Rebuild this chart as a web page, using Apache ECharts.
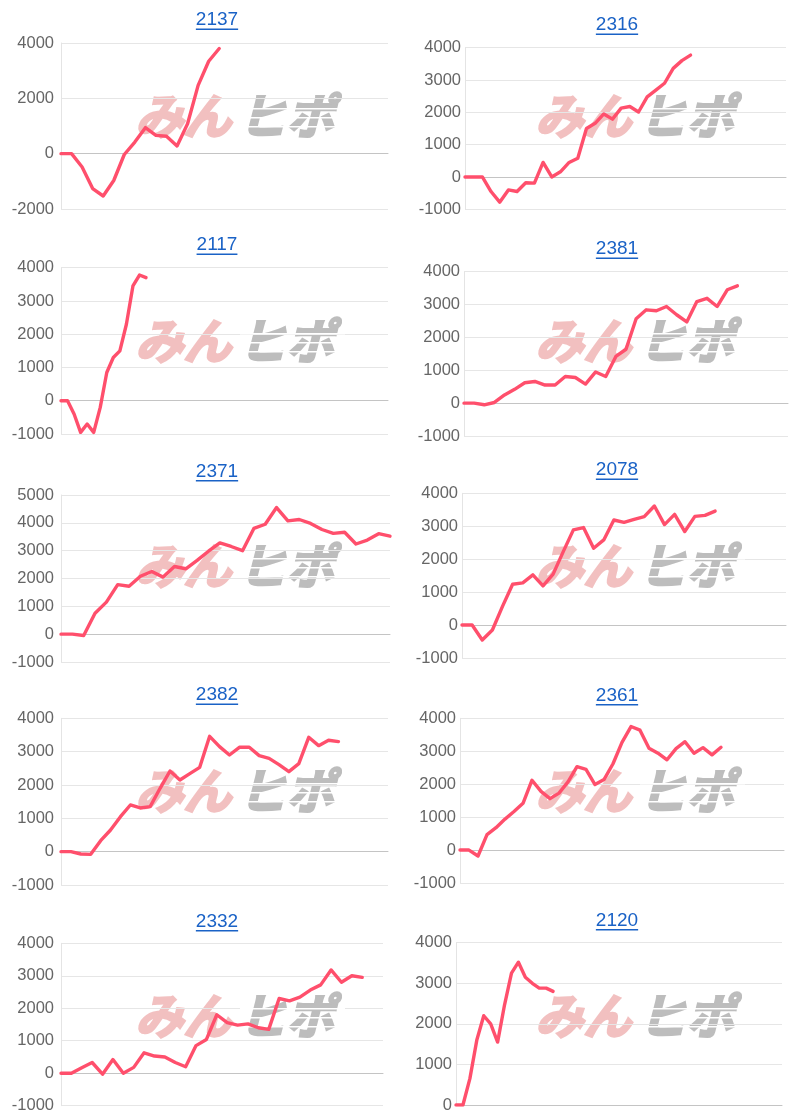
<!DOCTYPE html>
<html><head><meta charset="utf-8">
<script src="https://cdn.jsdelivr.net/npm/echarts@6/dist/echarts.min.js"></script>
<style>html,body{margin:0;padding:0;background:#fff}#c{width:800px;height:1120px}</style>
</head><body><div id="c"></div>
<script>
// ---- data ----
const titles = ['2137', '2316', '2117', '2381', '2371', '2078', '2382', '2361', '2332', '2120'];
const s2137 = [0, 0, -480, -1260, -1530, -970, -30, 420, 940, 660, 630, 280, 1080, 2470, 3340, 3800];
const s2316 = [0, 0, 0, -450, -780, -400, -450, -180, -190, 450, 0, 160, 450, 580, 1500, 1660, 1950, 1790, 2130, 2180, 2010, 2480, 2690, 2900, 3360, 3600, 3770];
const s2117 = [0, 0, -400, -950, -700, -950, -200, 850, 1300, 1500, 2300, 3450, 3780, 3700];
const s2381 = [0, 0, -50, 20, 250, 420, 620, 660, 550, 550, 810, 780, 580, 950, 810, 1420, 1640, 2570, 2840, 2810, 2940, 2690, 2470, 3090, 3190, 2940, 3450, 3570];
const s2371 = [0, 0, -50, 750, 1150, 1780, 1720, 2080, 2250, 2050, 2430, 2350, 2650, 2980, 3280, 3150, 3000, 3800, 3950, 4550, 4070, 4120, 3980, 3760, 3620, 3660, 3240, 3380, 3610, 3520];
const s2078 = [0, 0, -455, -150, 565, 1240, 1280, 1525, 1190, 1545, 2230, 2890, 2960, 2330, 2585, 3190, 3120, 3210, 3290, 3615, 3050, 3360, 2840, 3300, 3330, 3460];
const s2382 = [0, 0, -70, -80, 330, 650, 1050, 1400, 1310, 1350, 1900, 2420, 2150, 2340, 2530, 3460, 3150, 2900, 3130, 3130, 2880, 2800, 2610, 2400, 2640, 3430, 3180, 3340, 3300];
const s2361 = [0, 0, -180, 470, 680, 940, 1170, 1420, 2120, 1780, 1560, 1730, 2070, 2530, 2450, 1990, 2140, 2620, 3270, 3750, 3640, 3090, 2940, 2740, 3080, 3290, 2940, 3110, 2890, 3120];
const s2332 = [0, 0, 170, 330, -30, 420, 0, 180, 630, 530, 500, 330, 200, 850, 1040, 1800, 1560, 1480, 1520, 1400, 1350, 2300, 2230, 2340, 2560, 2720, 3180, 2800, 3000, 2950];
const s2120 = [0, 0, 650, 1600, 2200, 2000, 1550, 2470, 3250, 3520, 3150, 3000, 2880, 2880, 2800];
const xCounts = [32, 38, 51, 33, 30, 33, 34, 37, 32, 48];
const yMins = [-2000, -1000, -1000, -1000, -1000, -1000, -1000, -1000, -1000, 0];
const yMaxs = [4000, 4000, 4000, 4000, 5000, 4000, 4000, 4000, 4000, 4000];
const yIntervals = [2000, 1000, 1000, 1000, 1000, 1000, 1000, 1000, 1000, 1000];
const logoLeft = 'みん';
const logoRight = 'ヒポ';

const seriesValues = [s2137, s2316, s2117, s2381, s2371, s2078, s2382, s2361, s2332, s2120];

// ---- layout ----
const boxes = [
  {l: 61, r: 412, t: 43, b: 911},
  {l: 465, r: 14, t: 47.7, b: 910.7},
  {l: 61, r: 412, t: 267.7, b: 686},
  {l: 464, r: 12, t: 271.7, b: 684},
  {l: 61, r: 410, t: 495, b: 458},
  {l: 462, r: 14, t: 493.3, b: 462},
  {l: 61, r: 412, t: 718.3, b: 235},
  {l: 460, r: 16, t: 718.3, b: 237},
  {l: 61, r: 417, t: 943.3, b: 14.3},
  {l: 456, r: 18, t: 942.7, b: 15}
];
const titleCY = [20, 25, 245, 249, 471.5, 470, 695, 695.5, 921.5, 920.5];
const panelTops = [0, 0, 225, 225, 450, 450, 675, 675, 900, 900];

const TITLE_FONT = 19;
const fontFamily = '"Liberation Sans", Arial, sans-serif';
const mctx = document.createElement('canvas').getContext('2d');
mctx.font = TITLE_FONT + 'px ' + fontFamily;

const grids = [], xAxes = [], yAxes = [], series = [], graphics = [];
titles.forEach((t, i) => {
  const b = boxes[i];
  const col = i % 2;
  grids.push({left: b.l, right: b.r, top: b.t, bottom: b.b, containLabel: false});
  const cats = [];
  for (let k = 1; k <= xCounts[i]; k++) cats.push(String(k));
  xAxes.push({
    type: 'category', gridIndex: i, data: cats, boundaryGap: false,
    axisLabel: {show: false}, axisTick: {show: false},
    axisLine: {show: true, onZero: true, lineStyle: {color: '#c4c4c4', width: 1}},
    splitLine: {show: false}
  });
  yAxes.push({
    type: 'value', gridIndex: i, min: yMins[i], max: yMaxs[i], interval: yIntervals[i],
    axisLine: {show: true, lineStyle: {color: '#e4e4e4', width: 1}},
    axisTick: {show: false},
    axisLabel: {color: '#666', fontSize: 16.5, fontFamily: fontFamily, margin: col === 0 ? 7 : 4,
      formatter: v => String(v)},
    splitLine: {show: true, lineStyle: {color: '#e6e6e6', width: 1}}
  });
  series.push({
    type: 'line', xAxisIndex: i, yAxisIndex: i, data: seriesValues[i],
    showSymbol: false, symbol: 'none', smooth: false, z: 5,
    lineStyle: {color: '#ff4f6c', width: 3.4, join: 'round', cap: 'round'},
    emphasis: {disabled: true}, animation: false
  });
  const cx = col === 0 ? 217 : 617;
  const w = mctx.measureText(t).width;
  graphics.push({
    type: 'text', x: cx, y: titleCY[i], z: 10,
    style: {text: t, fill: '#1a62c6', font: TITLE_FONT + 'px ' + fontFamily, textAlign: 'center', textVerticalAlign: 'middle'}
  });
  graphics.push({
    type: 'rect', z: 10,
    shape: {x: cx - w / 2, y: titleCY[i] + 8.5, width: w, height: 1.5},
    style: {fill: '#1a62c6'}
  });
  const lx = col === 0 ? 140 : 540;
  const ly = panelTops[i] + 116;
  graphics.push({
    type: 'text', x: lx, y: ly, z: 0, skewX: -0.25,
    style: {text: logoLeft, fill: '#f2c0c0', font: 'bold 48px "Noto Sans CJK JP", sans-serif',
      textAlign: 'left', textVerticalAlign: 'middle', stroke: '#f2c0c0', lineWidth: 2.5}
  });
  graphics.push({
    type: 'text', x: lx + 103, y: ly, z: 0, skewX: -0.25,
    style: {text: logoRight, fill: '#bdbdbd', font: 'bold 48px "Noto Sans CJK JP", sans-serif',
      textAlign: 'left', textVerticalAlign: 'middle', stroke: '#bdbdbd', lineWidth: 2.5}
  });
  // speed-line stripes on the grey part
  [-8, 1, 10].forEach(dy => {
    graphics.push({
      type: 'rect', z: 1,
      shape: {x: lx + 100, y: ly + dy, width: 105, height: 1.6},
      style: {fill: '#ffffff'}
    });
  });
});

const chart = echarts.init(document.getElementById('c'), null, {renderer: 'canvas'});
chart.setOption({
  animation: false,
  backgroundColor: '#ffffff',
  grid: grids, xAxis: xAxes, yAxis: yAxes, series: series,
  graphic: {elements: graphics}
});
</script></body></html>
